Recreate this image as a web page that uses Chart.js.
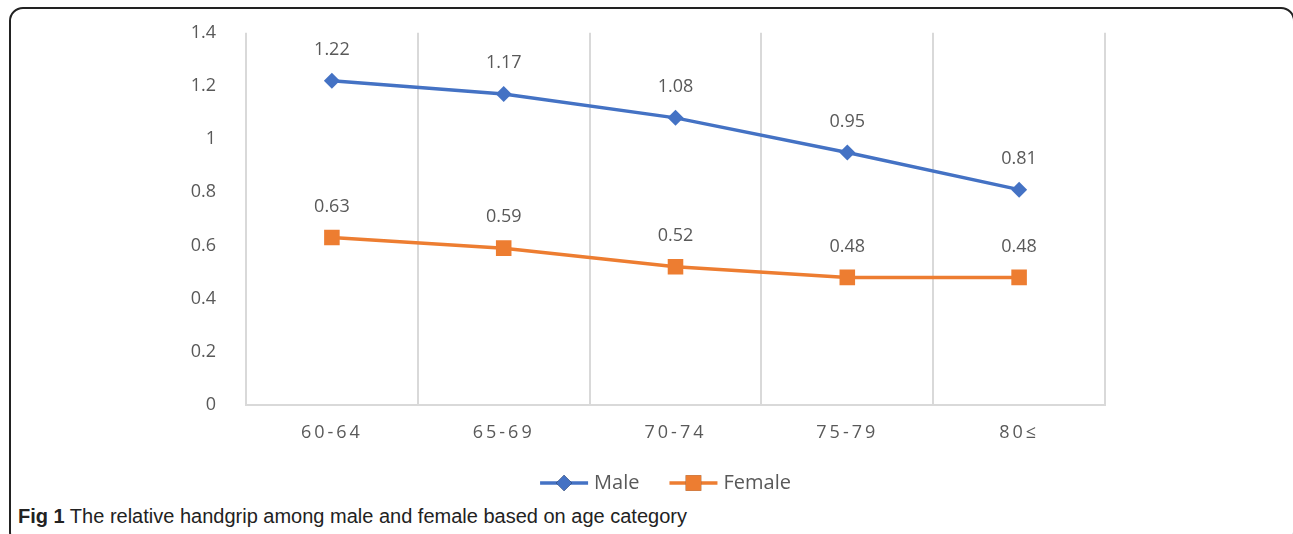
<!DOCTYPE html>
<html lang="en">
<head>
    <meta charset="UTF-8">
    <title>Relative handgrip by age category</title>
    <script src="https://cdn.jsdelivr.net/npm/chart.js"></script>
    <style>
        body {
            margin: 0;
            background: #fff;
            width: 1293px;
            height: 534px;
            overflow: hidden;
            position: relative;
        }

        .frame {
            position: absolute;
            left: 9px;
            top: 7px;
            width: 1282px;
            height: 535px;
            border: 2px solid #222;
            border-radius: 14px;
        }

        .chart-box {
            position: absolute;
            left: 0;
            top: 0;
            width: 1293px;
            height: 505px;
        }

        .caption {
            position: absolute;
            left: 18px;
            top: 505px;
            font-family: "Liberation Sans", Arial, sans-serif;
            font-size: 20px;
            color: #222;
            white-space: nowrap;
        }

        .caption b {
            font-weight: bold;
        }
    </style>
</head>
<body>
    <div class="frame"></div>
    <div class="chart-box">
        <canvas id="chart"></canvas>
    </div>
    <div class="caption"><b>Fig 1</b> The relative handgrip among male and female based on age category</div>

    <script>
        // data
        const ageGroups = ["60-64", "65-69", "70-74", "75-79", "80≤"];
        const maleValues = [1.22, 1.17, 1.08, 0.95, 0.81];
        const femaleValues = [0.63, 0.59, 0.52, 0.48, 0.48];
        const yTicks = [0, 0.2, 0.4, 0.6, 0.8, 1, 1.2, 1.4];

        const textGray = "#595959";
        const gridGray = "#d9d9d9";
        const tickFont = { family: "'Open Sans', sans-serif", size: 18 };

        // value labels above each point
        const valueLabels = {
            id: "valueLabels",
            afterDatasetsDraw(chart) {
                const ctx = chart.ctx;
                ctx.save();
                ctx.font = "18px 'Open Sans', sans-serif";
                ctx.fillStyle = textGray;
                ctx.textAlign = "center";
                ctx.textBaseline = "middle";
                chart.data.datasets.forEach((ds, i) => {
                    chart.getDatasetMeta(i).data.forEach((pt, j) => {
                        ctx.fillText(String(ds.data[j]), pt.x, pt.y - 31);
                    });
                });
                ctx.restore();
            }
        };

        // line + marker legend like the office chart
        const lineLegend = {
            id: "lineLegend",
            afterDraw(chart) {
                const ctx = chart.ctx;
                const area = chart.chartArea;
                ctx.save();
                ctx.font = "20px 'Open Sans', sans-serif";
                ctx.textBaseline = "middle";
                const y = 483;
                const lineLen = 48, gap = 6, itemGap = 30;
                const items = chart.data.datasets.map(ds => ({ ds, w: ctx.measureText(ds.label).width }));
                let total = 0;
                items.forEach((it, i) => { total += lineLen + gap + it.w + (i ? itemGap : 0); });
                let x = (area.left + area.right) / 2 - 10 - total / 2;
                items.forEach((it, i) => {
                    if (i) x += itemGap;
                    const ds = it.ds;
                    ctx.strokeStyle = ds.borderColor;
                    ctx.lineWidth = 3.5;
                    ctx.beginPath();
                    ctx.moveTo(x, y);
                    ctx.lineTo(x + lineLen, y);
                    ctx.stroke();
                    Chart.helpers.drawPoint(ctx, {
                        pointStyle: ds.pointStyle,
                        radius: ds.pointRadius,
                        borderWidth: 0
                    }, x + lineLen / 2, y);
                    ctx.fillStyle = ds.borderColor;
                    ctx.fill();
                    ctx.fillStyle = textGray;
                    ctx.fillText(ds.label, x + lineLen + gap, y);
                    x += lineLen + gap + it.w;
                });
                ctx.restore();
            }
        };

        // spaced-out category labels
        const spacedLabels = {
            id: "spacedLabels",
            beforeDraw(chart) {
                const xs = chart.scales.x;
                if (xs._spaced) return;
                const orig = xs.drawLabels.bind(xs);
                xs.drawLabels = function (area) {
                    const c = this.ctx;
                    const prev = c.letterSpacing;
                    c.letterSpacing = "3px";
                    orig(area);
                    c.letterSpacing = prev;
                };
                xs._spaced = true;
            }
        };

        const chart = new Chart(document.getElementById("chart"), {
            type: "line",
            data: {
                labels: ageGroups,
                datasets: [{
                    label: "Male",
                    data: maleValues,
                    borderColor: "#4472C4",
                    backgroundColor: "#4472C4",
                    borderWidth: 3.5,
                    pointStyle: "rectRot",
                    pointRadius: 8,
                    pointBorderWidth: 0,
                    tension: 0
                }, {
                    label: "Female",
                    data: femaleValues,
                    borderColor: "#ED7D31",
                    backgroundColor: "#ED7D31",
                    borderWidth: 3.5,
                    pointStyle: "rect",
                    pointRadius: 11,
                    pointBorderWidth: 0,
                    tension: 0
                }]
            },
            options: {
                responsive: true,
                maintainAspectRatio: false,
                animation: false,
                layout: { padding: { top: 32, right: 188, left: 0, bottom: 0 } },
                plugins: {
                    legend: { display: false },
                    tooltip: { enabled: false }
                },
                scales: {
                    x: {
                        offset: true,
                        grid: { offset: true, color: gridGray, lineWidth: 2, drawTicks: false },
                        border: { color: gridGray, width: 2 },
                        ticks: { color: textGray, font: tickFont, padding: 17 },
                        afterFit(scale) { scale.height = 100; }
                    },
                    y: {
                        min: 0,
                        max: 1.4,
                        afterBuildTicks(scale) { scale.ticks = yTicks.map(v => ({ value: v })); },
                        grid: { display: false },
                        border: { display: false },
                        ticks: {
                            color: textGray,
                            font: tickFont,
                            padding: 22,
                            callback: v => String(v)
                        },
                        afterFit(scale) { scale.width = 246; }
                    }
                }
            },
            plugins: [valueLabels, lineLegend, spacedLabels]
        });
    </script>
</body>
</html>
